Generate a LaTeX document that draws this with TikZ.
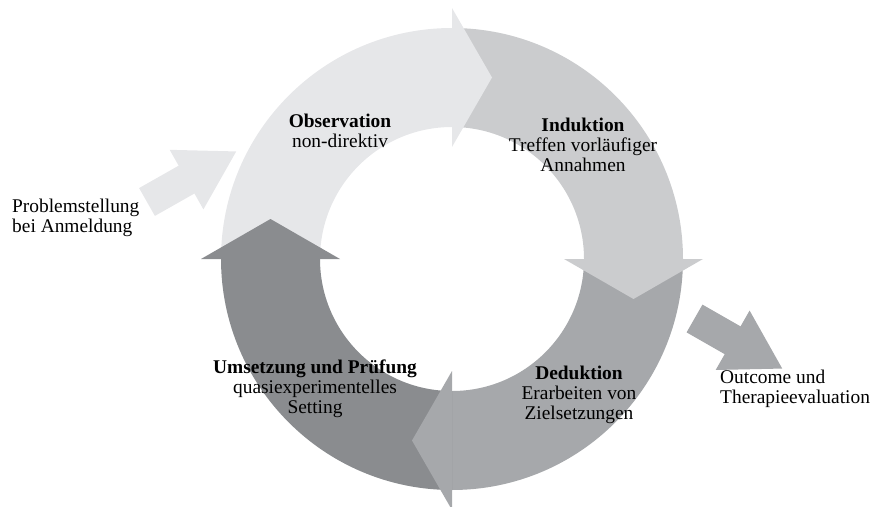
\documentclass[tikz,border=0pt]{standalone}
\usepackage{fontspec}
\setmainfont{Liberation Serif}
\usepackage{tikz}
\usetikzlibrary{arrows.meta}
\usetikzlibrary{calc,positioning}
\definecolor{obsgray}{RGB}{230,231,233}
\definecolor{indgray}{RGB}{203,204,206}
\definecolor{dedgray}{RGB}{166,168,171}
\definecolor{umsgray}{RGB}{138,140,143}

\begin{document}
\begin{tikzpicture}[x=1pt,y=1pt]
  \tikzset{phase/.style = {align=center,inner sep=0pt,font=\fontsize{19.4}{20}\selectfont}}
  \tikzset{sidetext/.style = {align=left,anchor=west,inner sep=0pt,font=\fontsize{19.4}{20}\selectfont}}
  \tikzset{sidearrow/.style = {line width=32pt,-tipB}}
  \tikzset{%
  tipB/.tip={Triangle[length=58pt,width=64pt]},
}
  \useasboundingbox (0,0) rectangle (878,-506);

	\coordinate (C) at (452,-259);

	% ring bodies, a quarter each, clockwise
	\foreach \ang/\col in {180/obsgray, 90/indgray, 0/dedgray, -90/umsgray}
	\fill[\col,shift={(C)}] (\ang:231) arc[start angle=\ang,end angle=\ang-90,radius=231pt]
	  -- (\ang-90:132) arc[start angle=\ang-90,end angle=\ang,radius=132pt] -- cycle;

	% heads on top of the next body
	\foreach \nxt/\col in {90/obsgray, 0/indgray, -90/dedgray, -180/umsgray}
	\fill[\col,shift={(C)}] (\nxt:112) -- (\nxt:251) -- ($(\nxt:181.5)+(\nxt-90:40)$) -- cycle;

	\node[phase] (obs) at (340,-131) {\textbf{Observation}\\non-direktiv};
	\node[phase] (ind) at (583,-145) {\textbf{Induktion}\\Treffen vorläufiger\\Annahmen};
	\node[phase] (ded) at (579,-395) {\textbf{Deduktion}\\Erarbeiten von\\Zielsetzungen};
	\node[phase] (ums) at (315,-389) {\textbf{Umsetzung und Prüfung}\\quasiexperimentelles\\Setting};

	\node[sidetext] (problem) at (12,-218) {Problemstellung\\bei Anmeldung};
	\node[sidetext] (outcome) at (720,-389) {Outcome und\\Therapieevaluation};

	\coordinate (inTail) at (147,-202);
	\coordinate (inTip) at (237,-151);
	\coordinate (outTail) at (694.5,-318.5);
	\coordinate (outTip) at (783,-369);

    \draw[sidearrow,obsgray] (inTail) -- (inTip);
    \draw[sidearrow,dedgray] (outTail) -- (outTip);

\end{tikzpicture}
\end{document}
